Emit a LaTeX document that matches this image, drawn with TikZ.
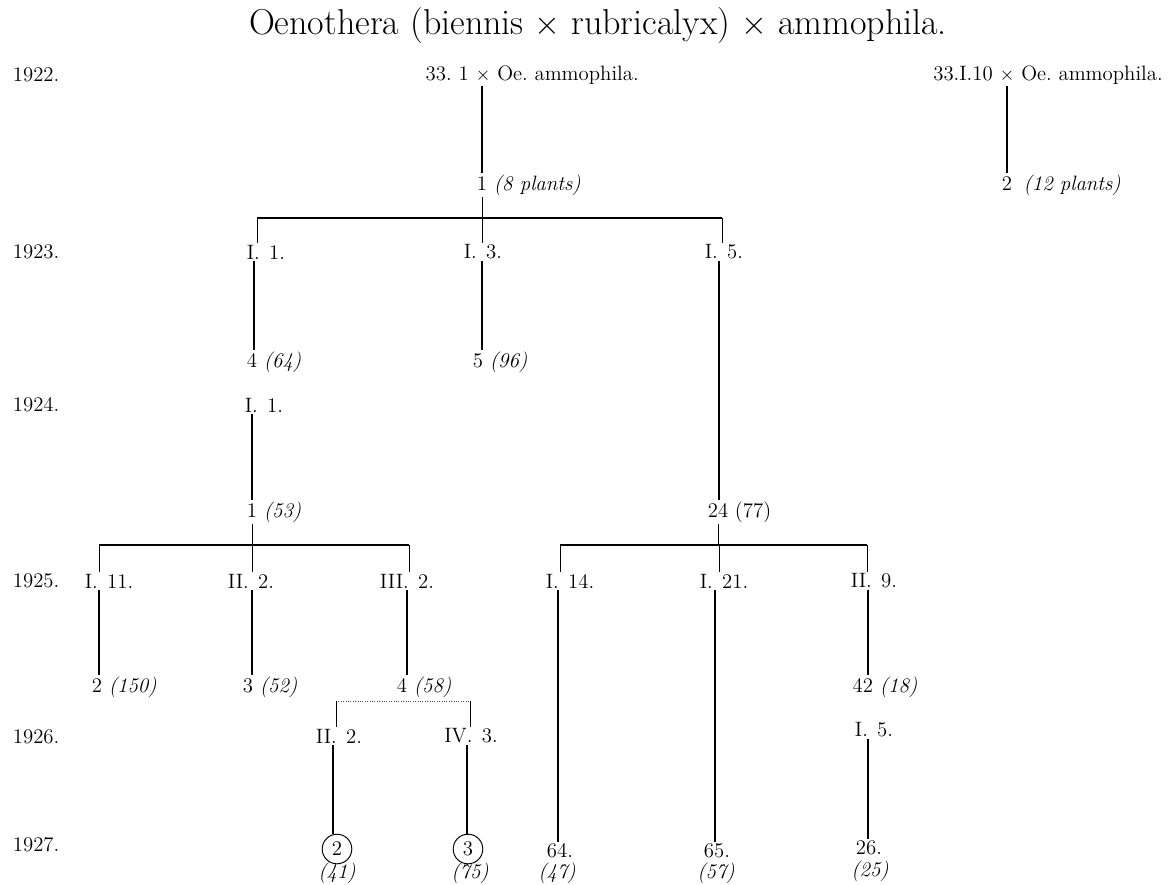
\documentclass[tikz,border=0pt]{standalone}
\newcommand{\gap}{\hspace{0.45em}}
\begin{document}
\begin{tikzpicture}[x=0.625pt,y=-0.625pt,
  t/.style={inner sep=1pt, font=\fontsize{13}{15.6}\selectfont},
  yr/.style={t, anchor=west},
  ttl/.style={inner sep=0pt, font=\fontsize{22.5}{27}\selectfont},
  circ/.style={t, draw, circle, line width=0.6pt, minimum size=18.5pt, inner sep=0pt},
  stem/.style={line width=1.1pt},
  tick/.style={line width=0.55pt},
  bar/.style={line width=0.9pt},
  thinbar/.style={line width=0.5pt, black!70, densely dotted}]
\fill[white] (0,0) rectangle (1172,884);
\useasboundingbox (0,0) rectangle (1172,884);

% title and years
\node[ttl] (title) at (598,26) {Oenothera (biennis $\times$ rubricalyx) $\times$ ammophila.};
\node[yr] (y22) at (11,75) {1922.};
\node[yr] (y23) at (11,252) {1923.};
\node[yr] (y24) at (11,405) {1924.};
\node[yr] (y25) at (11,581) {1925.};
\node[yr] (y26) at (11,737) {1926.};
\node[yr] (y27) at (11,845) {1927.};

% x positions of the lines
\coordinate (xA) at (482,0);
\coordinate (xB) at (254,0);
\coordinate (xC) at (719,0);
\coordinate (xL1) at (99,0);
\coordinate (xL2) at (252,0);
\coordinate (xL3) at (407,0);
\coordinate (xR1) at (558,0);
\coordinate (xR2) at (715,0);
\coordinate (xR3) at (868,0);
\coordinate (xM1) at (333,0);
\coordinate (xM2) at (467,0);

% 1922
\node[t] (p33) at (483,75) {\llap{33.\ 1\ }$\times$\rlap{\ Oe.\ ammophila.}};
\node[t] (p1) at (482,185) {1\rlap{\ \textit{(8 plants)}}};
\draw[stem] (p33.south -| xA) -- (p1.north -| xA);
\coordinate (b1l) at (257,218);
\coordinate (b1r) at (722,218);
\draw[bar] (b1l) -- (b1r);
\draw[tick] (p1.south -| xA) -- (b1l -| xA);

\node[t] (q33) at (1007,75) {\llap{33.I.10\ }$\times$\rlap{\ Oe.\ ammophila.}};
\node[t] (q2) at (1007,185) {2\rlap{\hspace{0.55em}\textit{(12 plants)}}};
\draw[stem] (q33.south) -- (q2.north);

% 1923
\node[t] (a23) at (266,252) {I.\gap1.};
\node[t] (b23) at (483,252) {I.\gap3.};
\node[t] (c23) at (724,252) {I.\gap5.};
\draw[tick] (b1l) -- (a23.north -| b1l);
\draw[tick] (b1l -| xA) -- (b23.north -| xA);
\draw[tick] (b1r) -- (c23.north -| b1r);
\node[t] (a23c) at (252,362) {4\rlap{\ \textit{(64)}}};
\node[t] (b23c) at (478,362) {5\rlap{\ \textit{(96)}}};
\draw[stem] (a23.south -| xB) -- (a23c.north -| xB);
\draw[stem] (b23.south -| xA) -- (b23c.north -| xA);

% 1924
\node[t] (a24) at (264,405) {I.\gap1.};
\node[t] (a24c) at (252,512) {1\rlap{\ \textit{(53)}}};
\node[t] (c24c) at (718,512) {24\rlap{\ (77)}};
\draw[stem] (a24.south -| xL2) -- (a24c.north -| xL2);
\draw[stem] (c23.south -| xC) -- (c24c.north -| xC);

\coordinate (b2l) at (99,545);
\coordinate (b2m) at (409,545);
\coordinate (b3l) at (560,545);
\coordinate (b3r) at (867,545);
\draw[bar] (b2l) -- (b2m);
\draw[bar] (b3l) -- (b3r);
\draw[tick] (a24c.south) -- (a24c.south |- b2l);
\draw[tick] (c24c.south) -- (c24c.south |- b3l);

% 1925
\node[t] (l1) at (109,581) {I.\gap11.};
\node[t] (l2) at (251,581) {II.\gap2.};
\node[t] (l3) at (407,581) {III.\gap2.};
\node[t] (r1) at (570,581) {I.\gap14.};
\node[t] (r2) at (724,581) {I.\gap21.};
\node[t] (r3) at (874,581) {II.\gap9.};
\draw[tick] (b2l) -- (l1.north -| b2l);
\draw[tick] (b2l -| xL2) -- (l2.north -| xL2);
\draw[tick] (b2m) -- (l3.north -| b2m);
\draw[tick] (b3l) -- (r1.north -| b3l);
\draw[tick] (b3l -| xC) -- (r2.north -| xC);
\draw[tick] (b3r) -- (r3.north -| b3r);

\node[t] (l1c) at (97,687) {2\rlap{\ \textit{(150)}}};
\node[t] (l2c) at (248,687) {3\rlap{\ \textit{(52)}}};
\node[t] (l3c) at (402,687) {4\rlap{\ \textit{(58)}}};
\node[t] (r3c) at (868,687) {\llap{4}2\rlap{\ \textit{(18)}}};
\draw[stem] (l1.south -| xL1) -- (l1c.north -| xL1);
\draw[stem] (l2.south -| xL2) -- (l2c.north -| xL2);
\draw[stem] (l3.south -| xL3) -- (l3c.north -| xL3);
\draw[stem] (r3.south -| xR3) -- (r3c.north -| xR3);

% 1926
\coordinate (b4l) at (336,701);
\coordinate (b4r) at (470,701);
\draw[thinbar] (b4l) -- (b4r);
\node[t] (m1) at (339,736) {II.\gap2.};
\node[t] (m2) at (471,736) {IV.\gap3.};
\node[t] (r3d) at (874,730) {I.\gap5.};
\draw[tick] (b4l) -- (m1.north -| b4l);
\draw[tick] (b4r) -- (m2.north -| b4r);

% 1927
\node[circ] (m1c) at (337,849) {2};
\node[t] (m1n) at (337,873) {\textit{(41)}};
\node[circ] (m2c) at (468,849) {3};
\node[t] (m2n) at (470,873) {\textit{(75)}};
\node[t] (r1c) at (560,851) {64.};
\node[t] (r1n) at (557,873) {\textit{(47)}};
\node[t] (r2c) at (717,851) {65.};
\node[t] (r2n) at (716,873) {\textit{(57)}};
\node[t] (r3e) at (869,848) {26.};
\node[t] (r3n) at (870,871) {\textit{(25)}};
\draw[stem] (m1.south -| xM1) -- (m1c.north -| xM1);
\draw[stem] (m2.south -| xM2) -- (m2c.north -| xM2);
\draw[stem] (r1.south -| xR1) -- (r1c.north -| xR1);
\draw[stem] (r2.south -| xR2) -- (r2c.north -| xR2);
\draw[stem] (r3d.south -| xR3) -- (r3e.north -| xR3);
\end{tikzpicture}
\end{document}
